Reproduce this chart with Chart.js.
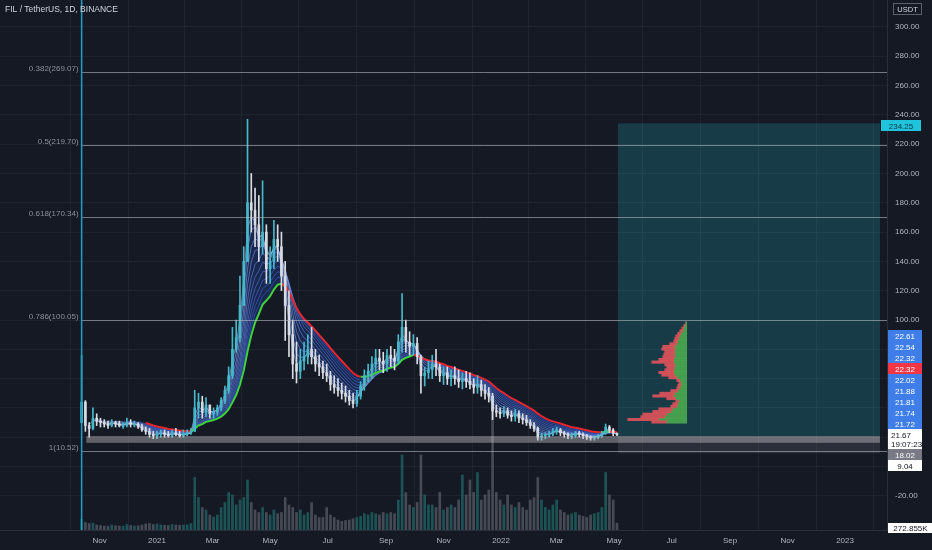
<!DOCTYPE html>
<html>
<head>
<meta charset="utf-8">
<script src="https://cdn.jsdelivr.net/npm/chart.js@4.4.1/dist/chart.umd.min.js"></script>
<style>
  html, body { margin: 0; padding: 0; background: #151924; }
  #wrap { width: 932px; height: 550px; }
</style>
</head>
<body>
<div id="wrap"><canvas id="chart" width="932" height="550"></canvas></div>
<script>
// data. x = days from 2021-01-01, one sample every 4 days
const title = 'FIL / TetherUS, 1D, BINANCE'
const firstDay = -80
const stepDays = 4
const firstOpen = 30
const highs = [
  76, 45, 30, 40, 36, 33, 32, 31, 32, 31,
  31, 30, 33, 32, 31, 30, 29, 27, 26, 24,
  24, 25, 25, 24, 25, 26, 24, 25, 25, 26,
  52, 50, 48, 47, 42, 40, 42, 47, 55, 68,
  95, 100, 130, 150, 237, 200, 190, 185, 195, 165,
  150, 168, 165, 160, 140, 120, 100, 85, 80, 85,
  90, 95, 80, 76, 72, 70, 65, 62, 60, 57,
  55, 52, 50, 52, 58, 66, 70, 75, 80, 80,
  78, 80, 82, 80, 90, 118, 100, 92, 90, 88,
  76, 68, 72, 76, 80, 70, 68, 68, 66, 68,
  66, 64, 65, 64, 60, 62, 59, 56, 54, 50,
  42, 40, 41, 40, 38, 39, 38, 36, 35, 32,
  30, 27, 23, 23, 24, 26, 27, 26, 24, 23,
  23, 24, 24, 23, 22, 21, 21, 22, 24, 29,
  28, 26, 23
]
const lows = [
  30, 24, 20, 25, 28, 27, 27, 26, 27, 27,
  27, 26, 27, 27, 27, 26, 24, 22, 20, 19,
  19, 20, 20, 20, 20, 21, 20, 20, 21, 22,
  24, 33, 33, 34, 33, 33, 35, 38, 43, 50,
  60, 78, 85, 110, 140, 160, 150, 140, 145, 125,
  125, 135, 140, 120, 86, 75, 60, 57, 60, 66,
  70, 70, 65, 62, 60, 58, 52, 50, 48, 46,
  44, 42, 40, 41, 46, 52, 58, 60, 65, 66,
  64, 65, 68, 66, 70, 78, 78, 76, 76, 70,
  50, 55, 60, 60, 62, 58, 56, 56, 55, 56,
  54, 53, 54, 53, 50, 50, 48, 46, 44, 32,
  34, 33, 34, 33, 31, 31, 30, 29, 28, 26,
  24, 18, 18, 19, 20, 21, 22, 21, 20, 19,
  19, 20, 20, 19, 18.5, 18, 18, 19, 20, 22,
  23, 21, 21
]
const closes = [
  44, 28, 26, 33, 31, 30, 29, 28, 30, 29,
  28, 28, 30, 29, 29, 27, 25, 24, 22, 21,
  22, 23, 22, 21, 23, 22, 21, 22, 23, 24,
  40, 44, 37, 42, 36, 37, 40, 45, 52, 62,
  80, 88, 110, 140, 180, 175, 165, 150, 160, 135,
  140, 155, 150, 130, 110, 90, 70, 65, 72, 75,
  80, 75, 70, 68, 64, 62, 56, 54, 52, 50,
  48, 45, 43, 48, 55, 62, 65, 70, 74, 72,
  70, 76, 74, 72, 85, 95, 85, 82, 84, 75,
  62, 64, 66, 70, 68, 62, 64, 60, 62, 60,
  58, 60, 58, 56, 54, 56, 52, 50, 48, 38,
  37, 36, 38, 35, 34, 36, 33, 32, 30, 28,
  26, 20, 21, 22, 22, 24, 25, 23, 22, 21,
  21, 23, 22, 21, 20, 19.5, 20, 21, 23, 27,
  25, 22.5, 21.67
]
const volumes = [
  420, 300, 260, 280, 200, 180, 160, 150, 200, 170,
  160, 150, 220, 180, 160, 170, 200, 240, 260, 220,
  240, 200, 190, 180, 220, 200, 190, 200, 210, 260,
  2100, 1300, 900, 800, 600, 520, 600, 900, 1100, 1500,
  1400, 1000, 1200, 1300, 2000, 1100, 800, 700, 900, 700,
  600, 800, 650, 700, 1300, 1000, 900, 700, 800, 600,
  700, 1100, 600, 500, 500, 900, 600, 500, 400, 350,
  380, 400, 450, 500, 550, 650, 600, 700, 650, 600,
  700, 650, 700, 650, 1200, 3000, 1500, 1000, 900, 1100,
  3000, 1400, 1000, 1000, 900, 1500, 800, 900, 1000, 900,
  1200, 2200, 1400, 2000, 1500, 2300, 1200, 1400, 1600, 5200,
  1500, 1200, 1000, 1400, 1000, 900, 1100, 900, 800, 1200,
  1300, 2100, 1200, 900, 800, 1000, 1200, 800, 700, 600,
  650, 700, 600, 550, 500, 600, 650, 700, 900, 2300,
  1400, 1200, 273
]
const monthTicks = [-61, 0, 59, 120, 181, 243, 304, 365, 424, 485, 546, 608, 669, 730]
const monthLabels = ['Nov', '2021', 'Mar', 'May', 'Jul', 'Sep', 'Nov', '2022', 'Mar', 'May', 'Jul', 'Sep', 'Nov', '2023']
const priceTicks = [-20, 0, 20, 40, 60, 80, 100, 120, 140, 160, 180, 200, 220, 240, 260, 280, 300, 320]
const fibLevels = ['0.382', '0.5', '0.618', '0.786', '1']
const fibPrices = [269.07, 219.70, 170.34, 100.05, 10.52]
const ribbonLengths = [8, 12, 17, 22, 28, 34, 40, 46, 52, 58, 66]
// visible range volume profile, rows of 2 USDT
const profPrices = [93, 91, 89, 87, 85, 83, 81, 79, 77, 75, 73, 71, 69, 67, 65, 63, 61, 59, 57, 55,
  53, 51, 49, 47, 45, 43, 41, 39, 37, 35, 33, 31, 29, 27, 25, 23, 21, 19, 17]
const profBuy = [1, 2, 3, 4, 6, 7, 8, 9, 10, 12, 12, 12, 12, 12, 13, 13, 12, 12, 13, 13,
  12, 10, 7, 6, 6, 7, 9, 12, 13, 11, 8, 9, 10, 14, 16, 20, 22, 28, 20]
const profSell = [0, 1, 2, 3, 3, 4, 4, 4, 7, 12, 13, 10, 11, 12, 15, 22, 10, 8, 9, 15,
  13, 8, 3, 2, 3, 3, 7, 15, 21, 9, 3, 5, 6, 14, 18, 24, 24, 31, 15]
const profAnchorDay = 562
const profUnitDays = 1.06
// drawings
const position = { startDay: 489, endDay: 767, entry: 20.8, target: 234.25, stop: 9.04 }
const zone = { startDay: -75, endDay: 767, low: 16.2, high: 20.8 }
const lastPrice = 21.67
const countdown = '19:07:23'
const stackAbove = ['22.61', '22.54', '22.32', '22.32', '22.02', '21.88', '21.81', '21.74', '21.72']
const stackBelow = ['18.02', '9.04']
const lastVolume = '272.855K'

// colors
const upColor = '#45b9cc'
const downColor = '#d7dbe3'
const fontFamily = '"Liberation Sans", Arial, sans-serif'

const days = closes.map((c, i) => firstDay + i * stepDays)
const opens = closes.map((c, i) => i === 0 ? firstOpen : closes[i - 1])
const candleColors = closes.map((c, i) => c >= opens[i] ? upColor : downColor)
const volColors = closes.map((c, i) => c >= opens[i] ? 'rgba(38,166,154,0.42)' : 'rgba(150,154,166,0.38)')

function ema(values, lenDays) {
  const a = 2 / (lenDays / stepDays + 1)
  let e = values[0]
  return values.map((v, i) => {
    e = i === 0 ? v : a * v + (1 - a) * e
    return e
  })
}
function emaPoints(lenDays) {
  const start = Math.round(lenDays / stepDays)
  return ema(closes, lenDays).map((v, i) => ({ x: days[i], y: v })).slice(start)
}
function mix(a, b, t) {
  return a.map((v, i) => Math.round(v + (b[i] - v) * t))
}

const datasets = []
datasets.push({
  type: 'bar', label: 'body', order: 0, grouped: false, barThickness: 2, maxBarThickness: 2, minBarLength: 1,
  data: days.map((d, i) => ({ x: d, y: [opens[i], closes[i]] })),
  backgroundColor: candleColors
})
datasets.push({
  type: 'bar', label: 'wick', order: 1, grouped: false, barThickness: 1, maxBarThickness: 1,
  data: days.map((d, i) => ({ x: d, y: [lows[i], highs[i]] })),
  backgroundColor: candleColors
})
const slowLen = ribbonLengths[ribbonLengths.length - 1]
datasets.push({
  type: 'line', label: 'slow', order: 2, borderWidth: 2, pointRadius: 0, tension: 0,
  data: emaPoints(slowLen),
  segment: { borderColor: c => c.p1.parsed.y >= c.p0.parsed.y ? '#3fd13a' : '#e5262f' },
  fill: { target: 3, above: 'rgba(41,98,255,0.2)', below: 'rgba(41,98,255,0.2)' }
})
ribbonLengths.slice(0, -1).forEach((len, k, arr) => {
  const c = mix([190, 206, 240], [60, 98, 215], k / (arr.length - 1))
  datasets.push({
    type: 'line', label: 'ema' + len, order: 3, borderWidth: 0.7, pointRadius: 0, tension: 0,
    data: emaPoints(len), borderColor: `rgba(${c[0]},${c[1]},${c[2]},0.8)`, fill: false
  })
})
datasets.push({
  type: 'bar', label: 'sell', order: 4, indexAxis: 'y', xAxisID: 'xp', yAxisID: 'yp', grouped: false,
  barThickness: 2.4, maxBarThickness: 2.4,
  data: profPrices.map((p, i) => ({ y: p, x: [profAnchorDay - (profBuy[i] + profSell[i]) * profUnitDays, profAnchorDay - profBuy[i] * profUnitDays] })),
  backgroundColor: 'rgba(236,84,92,0.85)'
})
datasets.push({
  type: 'bar', label: 'buy', order: 4, indexAxis: 'y', xAxisID: 'xp', yAxisID: 'yp', grouped: false,
  barThickness: 2.4, maxBarThickness: 2.4,
  data: profPrices.map((p, i) => ({ y: p, x: [profAnchorDay - profBuy[i] * profUnitDays, profAnchorDay] })),
  backgroundColor: 'rgba(76,175,80,0.85)'
})
datasets.push({
  type: 'bar', label: 'volume', order: 6, yAxisID: 'yv', grouped: false, barThickness: 2, maxBarThickness: 2,
  data: days.map((d, i) => ({ x: d, y: volumes[i] })),
  backgroundColor: volColors
})

const xMin = -166.6, xMax = 774.5, yMin = -43.3, yMax = 318.4

const overlay = {
  id: 'overlay',
  beforeDraw(chart) {
    const ctx = chart.ctx
    ctx.save()
    ctx.fillStyle = '#151924'
    ctx.fillRect(0, 0, chart.width, chart.height)
    ctx.restore()
  },
  beforeDatasetsDraw(chart) {
    const { ctx, scales: { x, y } } = chart
    const x0 = x.getPixelForValue(position.startDay), x1 = x.getPixelForValue(position.endDay)
    const yT = y.getPixelForValue(position.target), yE = y.getPixelForValue(position.entry)
    const yS = y.getPixelForValue(position.stop)
    ctx.save()
    ctx.fillStyle = 'rgba(38,170,185,0.24)'
    ctx.fillRect(x0, yT, x1 - x0, yE - yT)
    ctx.fillStyle = 'rgba(120,123,134,0.22)'
    ctx.fillRect(x0, yE, x1 - x0, yS - yE)
    ctx.restore()
  },
  afterDatasetsDraw(chart) {
    const { ctx, chartArea: a, scales: { x, y } } = chart
    ctx.save()
    // support zone
    const zx0 = x.getPixelForValue(zone.startDay), zx1 = x.getPixelForValue(zone.endDay)
    const zy0 = y.getPixelForValue(zone.high), zy1 = y.getPixelForValue(zone.low)
    ctx.fillStyle = 'rgba(200,200,205,0.42)'
    ctx.fillRect(zx0, zy0, zx1 - zx0, zy1 - zy0)
    // fib levels
    const fx = x.getPixelForValue(days[0])
    ctx.font = '8px ' + fontFamily
    ctx.textAlign = 'right'
    ctx.textBaseline = 'middle'
    fibPrices.forEach((p, i) => {
      const py = Math.round(y.getPixelForValue(p)) + 0.5
      ctx.strokeStyle = 'rgba(178,181,190,0.6)'
      ctx.lineWidth = 1
      ctx.beginPath(); ctx.moveTo(fx, py); ctx.lineTo(a.right, py); ctx.stroke()
      ctx.fillStyle = '#8d909a'
      ctx.fillText(`${fibLevels[i]}(${p.toFixed(2)})`, fx - 3, py - 4)
    })
    // vertical line at first bar
    ctx.strokeStyle = '#1f9fc8'
    ctx.lineWidth = 1.5
    ctx.beginPath(); ctx.moveTo(fx, a.top); ctx.lineTo(fx, a.bottom); ctx.stroke()
    ctx.restore()
  },
  afterDraw(chart) {
    const { ctx, chartArea: a, scales: { y } } = chart
    ctx.save()
    ctx.font = '8.5px ' + fontFamily
    ctx.fillStyle = '#d1d4dc'
    ctx.textAlign = 'left'
    ctx.textBaseline = 'middle'
    ctx.fillText(title, 5, 10)
    // axis unit
    ctx.strokeStyle = '#5d606b'
    ctx.lineWidth = 1
    ctx.strokeRect(893.5, 3.5, 28, 11)
    ctx.font = '7.5px ' + fontFamily
    ctx.textAlign = 'center'
    ctx.fillText('USDT', 907.5, 9.5)

    const box = (text, cy, bg, fg, x0, w, h) => {
      ctx.fillStyle = bg
      ctx.fillRect(x0, Math.round(cy - h / 2), w, h)
      ctx.fillStyle = fg
      ctx.font = '8px ' + fontFamily
      ctx.textAlign = 'center'
      ctx.fillText(text, x0 + w / 2, cy + 0.5)
    }
    box(position.target.toFixed(2), y.getPixelForValue(position.target) + 2.5, '#1fc3dc', '#0b3540', a.right - 6, 40, 11)
    const anchor = y.getPixelForValue(lastPrice)
    const n = stackAbove.length
    stackAbove.forEach((t, k) => {
      const cy = anchor - 11 * (n - k)
      box(t, cy, k === 3 ? '#f23645' : '#3f7ee8', '#ffffff', a.right + 1, 34, 11)
    })
    ctx.fillStyle = '#ffffff'
    ctx.fillRect(a.right + 1, Math.round(anchor - 5.5), 34, 20)
    ctx.fillStyle = '#131722'
    ctx.font = '8px ' + fontFamily
    ctx.textAlign = 'left'
    ctx.fillText(lastPrice.toFixed(2), a.right + 4, anchor + 0.5)
    ctx.fillText(countdown, a.right + 4, anchor + 9.5)
    box(stackBelow[0], anchor + 20, '#787b86', '#ffffff', a.right + 1, 34, 11)
    box(stackBelow[1], anchor + 31, '#ffffff', '#131722', a.right + 1, 34, 11)
    box(lastVolume, a.bottom - 2, '#ffffff', '#131722', a.right + 1, 45, 10)
    ctx.restore()
  }
}

new Chart(document.getElementById('chart'), {
  type: 'bar',
  data: { datasets },
  options: {
    responsive: false,
    animation: false,
    devicePixelRatio: 1,
    layout: { padding: 0 },
    plugins: { legend: { display: false }, tooltip: { enabled: false } },
    scales: {
      x: {
        type: 'linear', min: xMin, max: xMax, offset: false,
        afterBuildTicks: s => { s.ticks = monthTicks.map(v => ({ value: v })) },
        afterFit: s => { s.height = 20; s.paddingLeft = 0; s.paddingRight = 0 },
        grid: { color: 'rgba(42,46,57,0.55)', drawTicks: false },
        border: { color: '#2a2e39' },
        ticks: {
          autoSkip: false, maxRotation: 0, padding: 6, color: '#b2b5be',
          font: { size: 8, family: fontFamily },
          callback: v => monthLabels[monthTicks.indexOf(v)]
        }
      },
      y: {
        type: 'linear', position: 'right', min: yMin, max: yMax,
        afterBuildTicks: s => { s.ticks = priceTicks.map(v => ({ value: v })) },
        afterFit: s => { s.width = 45; s.paddingTop = 0; s.paddingBottom = 0 },
        grid: { color: 'rgba(42,46,57,0.5)', drawTicks: false },
        border: { color: '#2a2e39' },
        ticks: {
          padding: 8, color: '#b2b5be', font: { size: 8, family: fontFamily },
          callback: v => v.toFixed(2)
        }
      },
      xp: { type: 'linear', min: xMin, max: xMax, display: false, offset: false },
      yp: { type: 'linear', position: 'right', min: yMin, max: yMax, display: false },
      yv: { type: 'linear', position: 'right', min: 0, max: 21200, display: false }
    }
  },
  plugins: [overlay]
})
</script>
</body>
</html>
